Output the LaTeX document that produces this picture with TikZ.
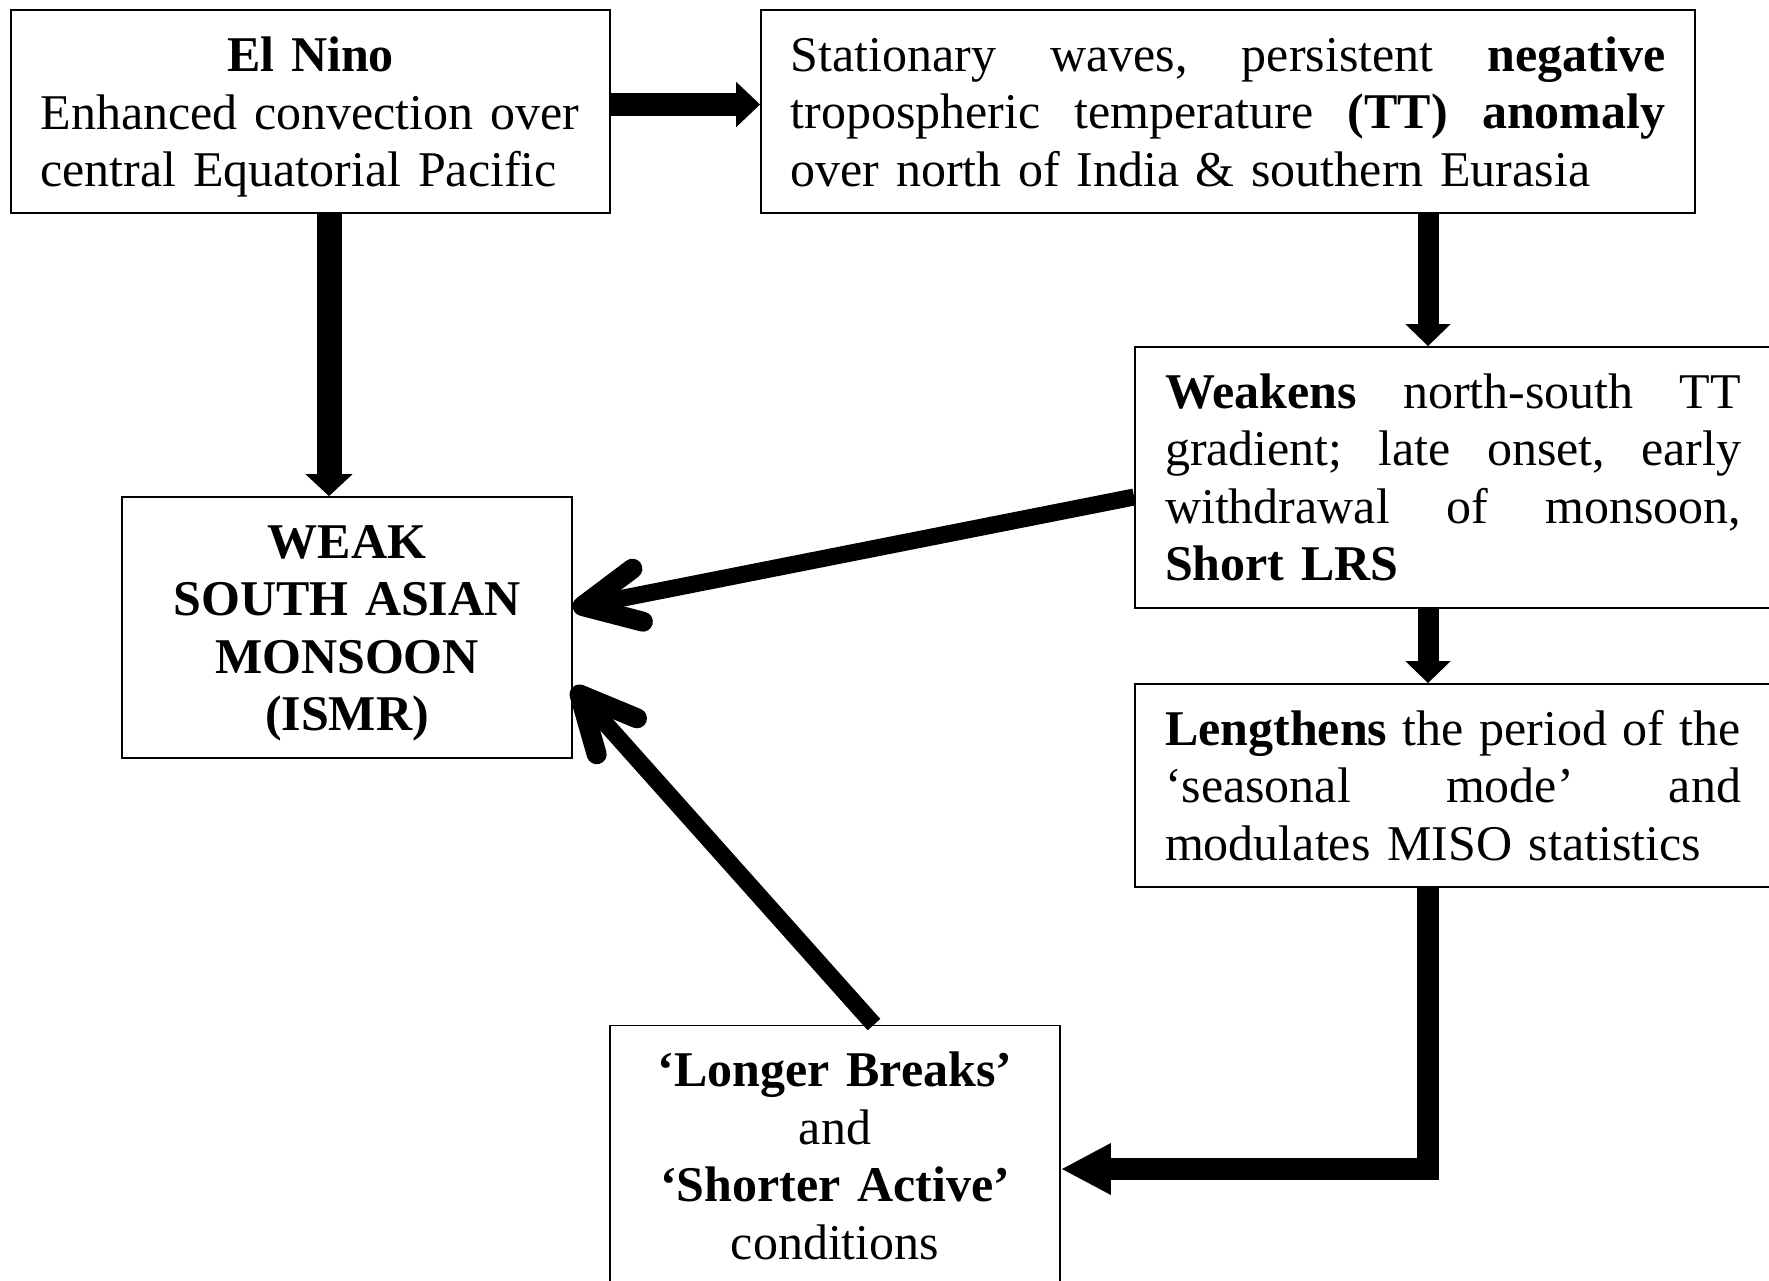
\documentclass[tikz,border=0pt]{standalone}
\usepackage{fontspec}
\setmainfont{Liberation Serif}
\usetikzlibrary{arrows.meta}
\newcommand\jusline[2]{\leavevmode\hbox to #1{#2}}
\begin{document}
\begin{tikzpicture}[x=1pt,y=-1pt,
  box/.style={draw, line width=1.8pt, inner ysep=0pt, align=left,
    font=\fontsize{50}{57.5}\selectfont},
  cbox/.style={box, align=center, text width=430pt, inner xsep=10pt},
  fillarrow/.style={line width=#1, line join=miter},
  openarrow/.style={line width=17pt,
    -{Straight Barb[length=56pt,width=54pt,round,line width=20pt]}}]
\fill[white] (0,0) rectangle (1769,1281);
\useasboundingbox (0,0) rectangle (1769,1281);

% boxes
\node[box, text width=540pt, inner xsep=29.5pt, minimum height=203pt] (elnino) at (310.5,111.5)
  {\jusline{540pt}{\hfil\rule{0pt}{46pt}\textbf{El Nino}\hfil}\\Enhanced convection over\\central Equatorial Pacific};
\node[box, text width=875pt, inner xsep=29.5pt, minimum height=203pt] (station) at (1228,111.5)
  {\jusline{875pt}{Stationary\hfill waves,\hfill persistent\hfill \textbf{negative}}\\
   \jusline{875pt}{tropospheric\hfill temperature\hfill \textbf{(TT)}\hfill \textbf{anomaly}}\\
   over north of India \& southern Eurasia};
\node[box, text width=576pt, inner xsep=30pt, minimum height=261pt] (weakens) at (1453,477.5)
  {\jusline{576pt}{\textbf{Weakens}\hfill north-south\hfill TT}\\
   \jusline{576pt}{gradient;\hfill late\hfill onset,\hfill early}\\
   \jusline{576pt}{withdrawal\hfill of\hfill monsoon,}\\
   \textbf{Short LRS}};
\node[box, text width=576pt, inner xsep=30pt, minimum height=203pt] (lengthens) at (1453,785.5)
  {\jusline{576pt}{\textbf{Lengthens}\hfill the\hfill period\hfill of\hfill the}\\
   \jusline{576pt}{‘seasonal\hfill mode’\hfill and}\\
   modulates MISO statistics};
\node[cbox, font=\fontsize{50}{57.5}\selectfont\bfseries, minimum height=261pt] (weak) at (347,627.5)
  {\rule{0pt}{45pt}WEAK\\SOUTH ASIAN\\MONSOON\\(ISMR)};
\node[cbox, minimum height=261pt] (longer) at (835,1156)
  {\textbf{‘Longer Breaks’}\\and\\\textbf{‘Shorter Active’}\\conditions};

% helper coordinates
\coordinate (ya) at (0,104.5);
\coordinate (xa) at (329,0);
\coordinate (xb) at (1428,0);
\coordinate (yc) at (0,1169);

% connectors
\draw[fillarrow=23pt, -{Triangle[length=24pt,width=44pt]}] (elnino.east |- ya) -- (station.west |- ya);
\draw[fillarrow=25pt, -{Triangle[length=22pt,width=46pt]}] (elnino.south -| xa) -- (weak.north -| xa);
\draw[fillarrow=21pt, -{Triangle[length=22pt,width=44pt]}] (station.south -| xb) -- (weakens.north -| xb);
\draw[fillarrow=21pt, -{Triangle[length=22pt,width=44pt]}] (weakens.south -| xb) -- (lengthens.north -| xb);
\draw[fillarrow=22pt, -{Triangle[length=50pt,width=48pt]}] (lengthens.south -| xb) |- (longer.east |- yc);
\draw[openarrow] ([yshift=-19.5pt]weakens.west) -- ([yshift=19.5pt]weak.east);
\draw[openarrow] ([xshift=39pt]longer.north) -- ([yshift=-59.5pt]weak.east);
\end{tikzpicture}
\end{document}
